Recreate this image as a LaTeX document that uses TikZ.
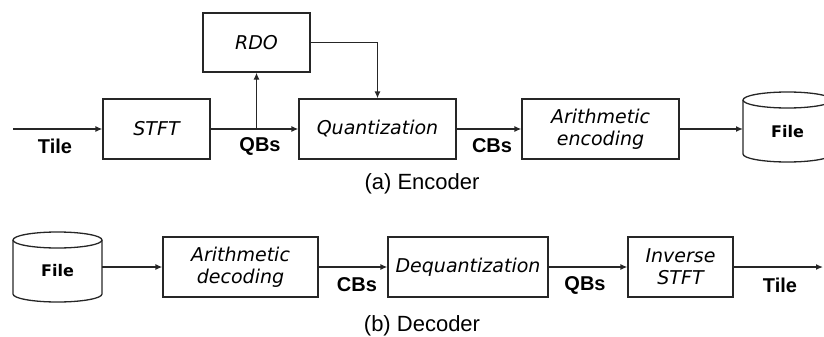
\documentclass[tikz,border=0pt]{standalone}
\usepackage{fontspec}
\setmainfont{Liberation Sans}
\newfontfamily\boxfont{DejaVu Sans}
\usetikzlibrary{arrows.meta}
\begin{document}
\begin{tikzpicture}[x=1pt,y=-1pt,
  blk/.style={draw=black!85, line width=1.3pt, minimum height=60pt, inner sep=0pt,
    font=\boxfont\itshape\fontsize{19}{22}\selectfont, align=center, fill=white},
  lbl/.style={font=\bfseries\fontsize{20}{22}\selectfont, inner sep=0pt},
  captxt/.style={font=\fontsize{22}{24}\selectfont, inner sep=0pt},
  filetxt/.style={font=\boxfont\bfseries\fontsize{16}{18}\selectfont, inner sep=0pt, minimum width=89pt, minimum height=60pt},
  arr/.style={-{Latex[length=7pt,width=6pt]}, line width=1.3pt, draw=black!85},
  cyl/.style={line width=1.3pt, draw=black!85}]
\useasboundingbox (0,0) rectangle (824,337);
\clip (0,0) rectangle (824,337);
% ---------- Encoder ----------
\node[blk, minimum width=107pt] (stft) at (156.5,129) {STFT};
\node[blk, minimum width=107pt, minimum height=59pt] (rdo) at (256.5,42.5) {RDO};
\node[blk, minimum width=157pt] (quant) at (377.5,129) {Quantization};
\node[blk, minimum width=157pt] (aenc) at (600.5,129) {Arithmetic\\encoding};
% file cylinder (encoder)
\draw[cyl] (787.5,100) ellipse[x radius=44.5pt, y radius=8pt];
\draw[cyl] (743,100) -- (743,154) arc[start angle=180, end angle=360, x radius=44.5pt, y radius=8pt] -- (832,100);
\node[filetxt] (fenc) at (787.5,132) {File};
\coordinate (tin) at (13,129);
\coordinate (fencin) at (743,129);
\draw[arr] (tin) -- (stft);
\draw[arr] (stft) -- (quant);
\coordinate (br) at (rdo.south |- stft.east);
\draw[arr] (br) -- (rdo.south);
\draw[arr] (rdo.east) -| (quant.north);
\draw[arr] (quant) -- (aenc);
\draw[arr] (aenc) -- (fencin);
\node[lbl] (ltile) at (55,146) {Tile};
\node[lbl] (lqb) at (260,146) {QBs};
\node[lbl] (lcb) at (492,146) {CBs};
\node[captxt] (capa) at (422,184) {(a) Encoder};
% ---------- Decoder ----------
\draw[cyl] (57.5,240) ellipse[x radius=44.5pt, y radius=8pt];
\draw[cyl] (13,240) -- (13,294) arc[start angle=180, end angle=360, x radius=44.5pt, y radius=8pt] -- (102,240);
\node[filetxt] (fdec) at (57.5,271) {File};
\node[blk, minimum width=155pt] (adec) at (240.5,267) {Arithmetic\\decoding};
\node[blk, minimum width=160pt] (dq) at (468,267) {Dequantization};
\node[blk, minimum width=105pt] (istft) at (680.5,267) {Inverse\\STFT};
\coordinate (fdecout) at (102,267);
\coordinate (tout) at (823,267);
\draw[arr] (fdecout) -- (adec);
\draw[arr] (adec) -- (dq);
\draw[arr] (dq) -- (istft);
\draw[arr] (istft) -- (tout);
\node[lbl] (lcb2) at (357,285) {CBs};
\node[lbl] (lqb2) at (585,285) {QBs};
\node[lbl] (ltile2) at (780,285) {Tile};
\node[captxt] (capb) at (422,326) {(b) Decoder};
\end{tikzpicture}
\end{document}
